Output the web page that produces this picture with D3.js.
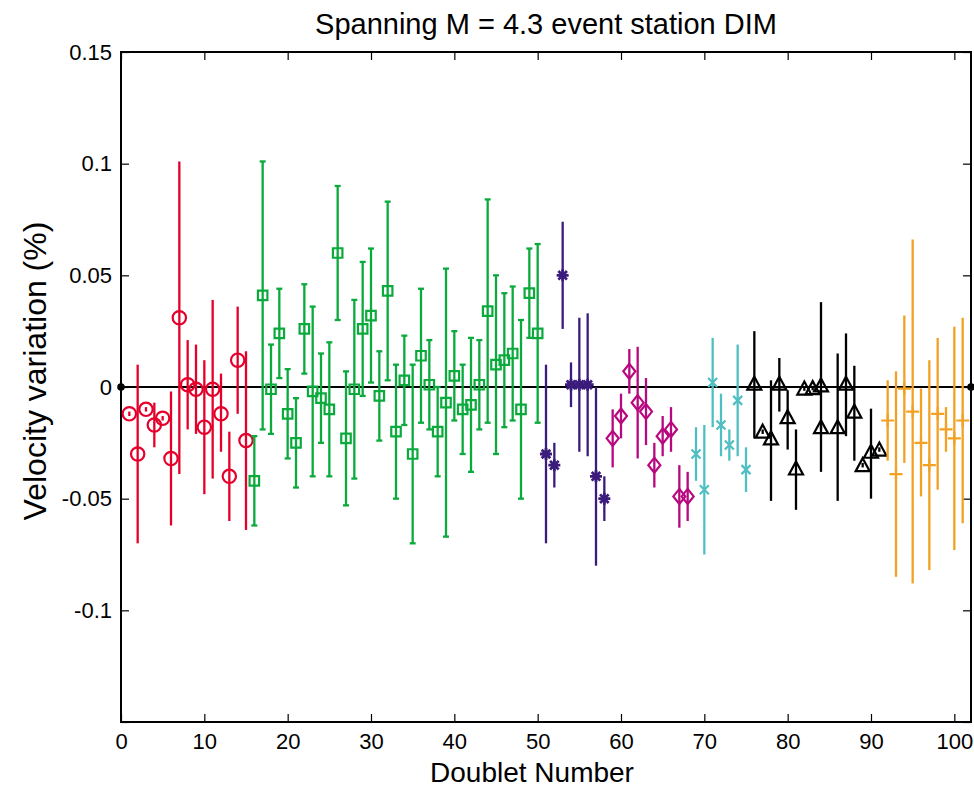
<!DOCTYPE html>
<html lang="en">
<head>
<meta charset="UTF-8">
<title>Spanning M = 4.3 event station DIM</title>
<script src="https://d3js.org/d3.v7.min.js"></script>
<style>
  body { margin: 0; background: #fff; }
  svg text { font-family: "Liberation Sans", Arial, Helvetica, sans-serif; fill: #000; }
</style>
</head>
<body>
<svg id="chart" width="974" height="787"></svg>
<script>
// doublet numbers, velocity variation (%), and error bar ends per event group
const redX = d3.range(1, 16);
const redVal = [-0.012, -0.030, -0.010, -0.017, -0.014, -0.032, 0.031, 0.001, -0.001, -0.018, -0.001, -0.012, -0.040, 0.012, -0.024];
const redHi  = [-0.011, 0.010, -0.009, -0.007, -0.013, -0.002, 0.101, 0.021, 0.019, 0.012, 0.039, 0.006, -0.020, 0.036, 0.016];
const redLo  = [-0.013, -0.070, -0.011, -0.027, -0.015, -0.062, -0.039, -0.019, -0.021, -0.048, -0.041, -0.029, -0.060, -0.012, -0.064];

const greenX = d3.range(16, 51);
const greenVal = [-0.042, 0.041, -0.001, 0.024, -0.012, -0.025, 0.026, -0.002, -0.005, -0.010, 0.060, -0.023, -0.001, 0.026, 0.032, -0.004, 0.043, -0.020, 0.003, -0.030, 0.014, 0.001, -0.020, -0.007, 0.005, -0.010, -0.008, 0.001, 0.034, 0.010, 0.012, 0.015, -0.010, 0.042, 0.024];
const greenHi  = [-0.022, 0.101, 0.019, 0.044, 0.008, -0.005, 0.046, 0.036, 0.015, 0.020, 0.090, 0.007, 0.039, 0.056, 0.062, 0.016, 0.083, 0.010, 0.023, 0.010, 0.044, 0.021, 0.000, 0.053, 0.025, 0.010, 0.022, 0.021, 0.084, 0.050, 0.042, 0.045, 0.030, 0.062, 0.064];
const greenLo  = [-0.062, -0.019, -0.021, 0.004, -0.032, -0.045, 0.006, -0.040, -0.025, -0.040, 0.030, -0.053, -0.041, -0.004, 0.002, -0.024, 0.003, -0.050, -0.017, -0.070, -0.016, -0.019, -0.040, -0.067, -0.015, -0.030, -0.038, -0.019, -0.016, -0.030, -0.018, -0.015, -0.050, 0.022, -0.016];

const purpleX = d3.range(51, 59);
const purpleVal = [-0.030, -0.035, 0.050, 0.001, 0.001, 0.001, -0.040, -0.050];
const purpleHi  = [0.010, -0.025, 0.074, 0.011, 0.031, 0.033, 0.000, -0.040];
const purpleLo  = [-0.070, -0.045, 0.026, -0.009, -0.029, -0.031, -0.080, -0.060];

const magentaX = d3.range(59, 69);
const magentaVal = [-0.023, -0.013, 0.007, -0.007, -0.011, -0.035, -0.022, -0.019, -0.049, -0.049];
const magentaHi  = [-0.010, -0.003, 0.017, 0.018, 0.004, -0.025, -0.013, -0.009, -0.035, -0.038];
const magentaLo  = [-0.036, -0.023, -0.003, -0.032, -0.026, -0.045, -0.031, -0.029, -0.063, -0.060];

const cyanX = d3.range(69, 76);
const cyanVal = [-0.030, -0.046, 0.002, -0.017, -0.026, -0.006, -0.037];
const cyanHi  = [-0.018, -0.017, 0.022, -0.003, -0.019, 0.019, -0.027];
const cyanLo  = [-0.042, -0.075, -0.018, -0.031, -0.033, -0.031, -0.047];

const blackX = [76, 77, 78, 79, 80, 81, 82, 83, 84, 84, 86, 87, 88, 89, 90, 91];
const blackVal = [0.0015, -0.020, -0.023, 0.0015, -0.0135, -0.0365, -0.0007, -0.0005, 0.0007, -0.018, -0.018, 0.0015, -0.011, -0.035, -0.029, -0.028];
const blackHi  = [0.025, -0.019, 0.003, 0.013, -0.0015, -0.019, 0.0003, 0.0005, 0.038, -0.017, 0.015, 0.024, 0.0095, -0.034, -0.0097, -0.027];
const blackLo  = [-0.023, -0.021, -0.051, -0.011, -0.028, -0.055, -0.0017, -0.0015, -0.038, -0.019, -0.051, -0.022, -0.033, -0.036, -0.050, -0.029];

const orangeX = d3.range(92, 102);
const orangeVal = [-0.015, -0.039, -0.0007, -0.011, -0.025, -0.035, -0.012, -0.019, -0.023, -0.015];
const orangeHi  = [0.003, 0.007, 0.032, 0.066, -0.0007, 0.012, 0.022, -0.009, 0.027, 0.031];
const orangeLo  = [-0.033, -0.085, -0.034, -0.088, -0.049, -0.082, -0.046, -0.029, -0.073, -0.061];

const xTicks = d3.range(0, 101, 10);
const yTicks = [-0.15, -0.1, -0.05, 0, 0.05, 0.1, 0.15];
const yTickLabels = ["", "-0.1", "-0.05", "0", "0.05", "0.1", "0.15"];

const groups = [
  { x: redX, v: redVal, hi: redHi, lo: redLo, color: "#e4002b", marker: "circle", cap: false },
  { x: greenX, v: greenVal, hi: greenHi, lo: greenLo, color: "#0aaa3c", marker: "square", cap: true },
  { x: purpleX, v: purpleVal, hi: purpleHi, lo: purpleLo, color: "#3b1c7c", marker: "star", cap: false },
  { x: magentaX, v: magentaVal, hi: magentaHi, lo: magentaLo, color: "#b8087f", marker: "diamond", cap: false },
  { x: cyanX, v: cyanVal, hi: cyanHi, lo: cyanLo, color: "#4fbfc2", marker: "times", cap: false },
  { x: blackX, v: blackVal, hi: blackHi, lo: blackLo, color: "#000000", marker: "triangle", cap: false },
  { x: orangeX, v: orangeVal, hi: orangeHi, lo: orangeLo, color: "#f2a122", marker: "plus", cap: false }
];

const svg = d3.select("#chart");
const plotL = 121, plotR = 971, plotT = 52, plotB = 722;
const x = d3.scaleLinear([0, 102], [plotL, plotR]);
const y = d3.scaleLinear([-0.15, 0.15], [plotB, plotT]);

// frame with inward ticks on all four sides
svg.append("g").attr("transform", `translate(0,${plotB})`)
  .call(d3.axisBottom(x).tickValues(xTicks).tickSizeInner(-8).tickSizeOuter(0).tickPadding(11))
  .call(g => g.select(".domain").remove())
  .call(g => g.selectAll("text").attr("font-size", 22));
svg.append("g").attr("transform", `translate(0,${plotT})`)
  .call(d3.axisTop(x).tickValues(xTicks).tickSizeInner(-8).tickSizeOuter(0).tickFormat(""))
  .call(g => g.select(".domain").remove());
svg.append("g").attr("transform", `translate(${plotL},0)`)
  .call(d3.axisLeft(y).tickValues(yTicks).tickSizeInner(-8).tickSizeOuter(0).tickPadding(9)
    .tickFormat((d, i) => yTickLabels[i]))
  .call(g => g.select(".domain").remove())
  .call(g => g.selectAll("text").attr("font-size", 22));
svg.append("g").attr("transform", `translate(${plotR},0)`)
  .call(d3.axisRight(y).tickValues(yTicks).tickSizeInner(-8).tickSizeOuter(0).tickFormat(""))
  .call(g => g.select(".domain").remove());
svg.selectAll(".tick line").attr("stroke", "#000").attr("stroke-width", 1.2);

svg.append("rect").attr("x", plotL).attr("y", plotT)
  .attr("width", plotR - plotL).attr("height", plotB - plotT)
  .attr("fill", "none").attr("stroke", "#000").attr("stroke-width", 2);

// zero reference line
svg.append("line").attr("x1", x(0)).attr("x2", x(102)).attr("y1", y(0)).attr("y2", y(0))
  .attr("stroke", "#000").attr("stroke-width", 2.2);
svg.selectAll(".enddot").data([0, 102]).enter().append("circle")
  .attr("cx", d => x(d)).attr("cy", y(0)).attr("r", 3.8).attr("fill", "#000");

const markerPath = {
  circle: d3.symbol(d3.symbolCircle, 140)(),
  square: d3.symbol(d3.symbolSquare, 90)(),
  diamond: "M0,-7.5L6,0L0,7.5L-6,0Z",
  triangle: "M0,-7L7,6L-7,6Z",
  times: "M-4.5,-4.5L4.5,4.5M-4.5,4.5L4.5,-4.5",
  plus: "M-6.5,0L6.5,0M0,-6.5L0,6.5",
  star: "M-6,0L6,0M0,-6L0,6M-4.3,-4.3L4.3,4.3M-4.3,4.3L4.3,-4.3"
};

groups.forEach(gr => {
  const pts = gr.x.map((d, i) => ({ n: d, v: gr.v[i], hi: gr.hi[i], lo: gr.lo[i] }));
  const g = svg.append("g");
  g.selectAll(".bar").data(pts).enter().append("line")
    .attr("x1", d => x(d.n)).attr("x2", d => x(d.n))
    .attr("y1", d => y(d.hi)).attr("y2", d => y(d.lo))
    .attr("stroke", gr.color).attr("stroke-width", 2.3);
  if (gr.cap) {
    ["hi", "lo"].forEach(k => {
      g.selectAll(".cap" + k).data(pts).enter().append("line")
        .attr("x1", d => x(d.n) - 3).attr("x2", d => x(d.n) + 3)
        .attr("y1", d => y(d[k])).attr("y2", d => y(d[k]))
        .attr("stroke", gr.color).attr("stroke-width", 2.3);
    });
  }
  g.selectAll(".mk").data(pts).enter().append("path")
    .attr("transform", d => `translate(${x(d.n)},${y(d.v)})`)
    .attr("d", markerPath[gr.marker])
    .attr("fill", "none").attr("stroke", gr.color)
    .attr("stroke-width", gr.marker === "star" ? 2.8 : 2.2);
});

// labels
svg.append("text").attr("x", 546).attr("y", 34).attr("text-anchor", "middle")
  .attr("font-size", 29).text("Spanning M = 4.3 event station DIM");
svg.append("text").attr("x", 532).attr("y", 782).attr("text-anchor", "middle")
  .attr("font-size", 28).text("Doublet Number");
svg.append("text").attr("transform", `translate(46,${y(0) - 16}) rotate(-90)`)
  .attr("text-anchor", "middle").attr("font-size", 32).text("Velocity variation (%)");
</script>
</body>
</html>
